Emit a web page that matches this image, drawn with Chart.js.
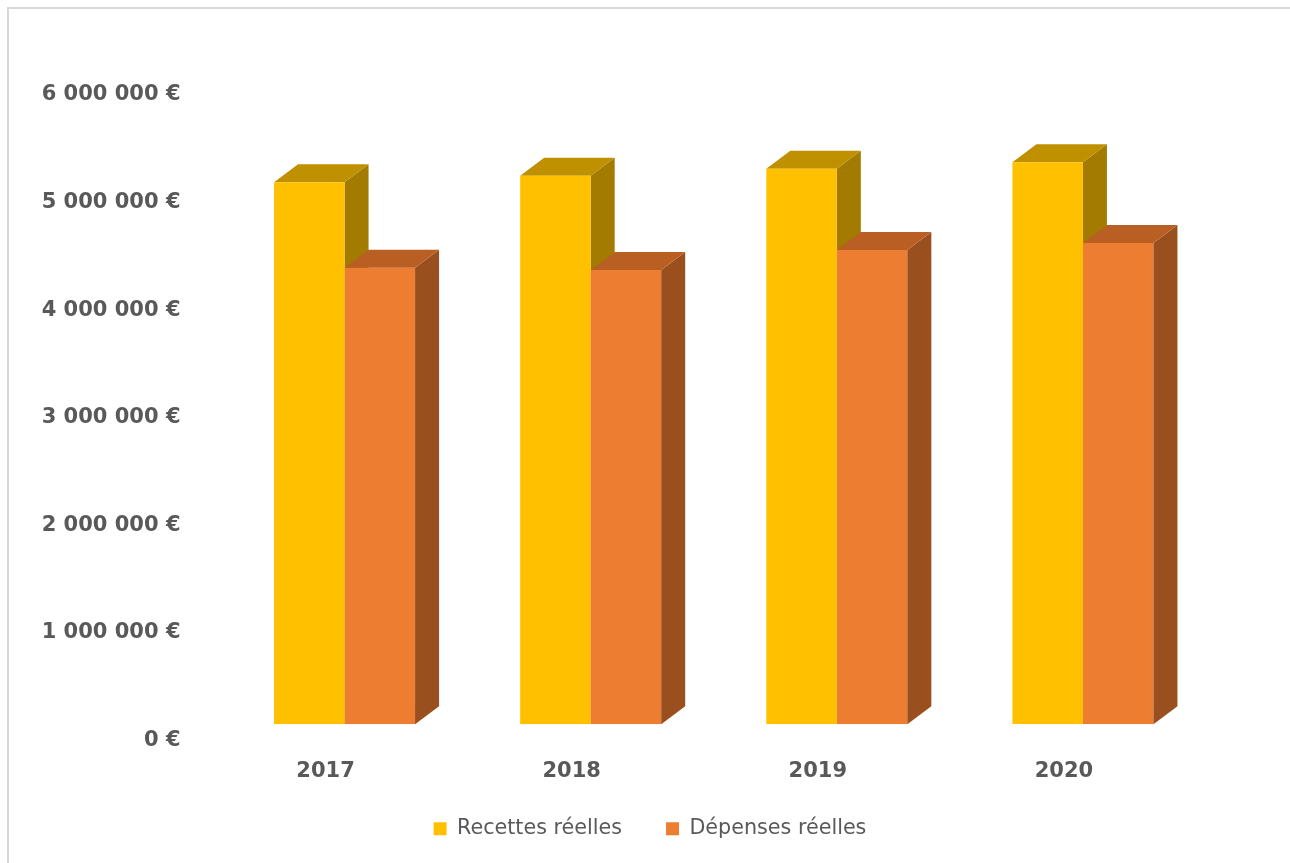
<!DOCTYPE html>
<html>
<head>
<meta charset="utf-8">
<script src="https://cdn.jsdelivr.net/npm/chart.js@4.4.1/dist/chart.umd.min.js"></script>
<style>
  html, body { margin: 0; padding: 0; background: #fff; overflow: hidden; }
  #frame {
    position: absolute; left: 7px; top: 7px; width: 1400px; height: 1000px;
    border-top: 2px solid #d9d9d9; border-left: 2px solid #d9d9d9;
  }
  #graphCanvas { position: absolute; left: 0; top: 0; }
</style>
</head>
<body>
<div id="frame"></div>
<canvas id="graphCanvas" width="1290" height="863"></canvas>
<script>
const years = ["2017", "2018", "2019", "2020"];
const recettes = [5040000, 5100000, 5165000, 5225000];
const depenses = [4245000, 4225000, 4410000, 4475000];

const Y_MAX = 6000000;
const Y_STEP = 1000000;

// colours: front / top / side
const yellow = { front: "#FFC000", top: "#BF9000", side: "#A37B00" };
const orange = { front: "#ED7D31", top: "#B95F24", side: "#9A4F1E" };

const DX = 24;  // depth offset
const DY = -18;

function fmtEuro(v) {
  return String(v).replace(/\B(?=(\d{3})+(?!\d))/g, " ") + " €";
}

function drawFaces(ctx, bar, c) {
  const left = bar.x - bar.width / 2;
  const right = bar.x + bar.width / 2;
  const top = bar.y;
  const base = bar.base;

  // side face
  ctx.fillStyle = c.side;
  ctx.beginPath();
  ctx.moveTo(right, top);
  ctx.lineTo(right + DX, top + DY);
  ctx.lineTo(right + DX, base + DY);
  ctx.lineTo(right, base);
  ctx.closePath();
  ctx.fill();

  // top face
  ctx.fillStyle = c.top;
  ctx.beginPath();
  ctx.moveTo(left, top);
  ctx.lineTo(left + DX, top + DY);
  ctx.lineTo(right + DX, top + DY);
  ctx.lineTo(right, top);
  ctx.closePath();
  ctx.fill();
}

// recettes faces go behind the depenses front, depenses faces on top
const bars3d = {
  id: "bars3d",
  beforeDatasetsDraw(chart) {
    const ctx = chart.ctx;
    ctx.save();
    chart.getDatasetMeta(0).data.forEach(bar => drawFaces(ctx, bar, yellow));
    ctx.restore();
  },
  afterDatasetsDraw(chart) {
    const ctx = chart.ctx;
    ctx.save();
    chart.getDatasetMeta(1).data.forEach(bar => drawFaces(ctx, bar, orange));
    ctx.restore();
  }
};

// legend is centred on the whole frame, not on the padded area
const legendShift = {
  id: "legendShift",
  afterLayout(chart) {
    const lg = chart.legend;
    lg.left += 47;
    lg.right += 47;
    lg.top -= 16;
    lg.bottom -= 16;
  }
};

const ctx = document.getElementById("graphCanvas").getContext("2d");

new Chart(ctx, {
  type: "bar",
  data: {
    labels: years,
    datasets: [
      {
        label: "Recettes réelles",
        data: recettes,
        backgroundColor: yellow.front,
        borderWidth: 0
      },
      {
        label: "Dépenses réelles",
        data: depenses,
        backgroundColor: orange.front,
        borderWidth: 0
      }
    ]
  },
  options: {
    responsive: false,
    animation: false,
    devicePixelRatio: 1,
    layout: { padding: { left: 0, right: 84, top: 79, bottom: -2 } },
    datasets: {
      bar: { categoryPercentage: 0.573, barPercentage: 1 }
    },
    scales: {
      x: {
        grid: { display: false },
        border: { display: false },
        ticks: {
          color: "#595959",
          font: { family: "DejaVu Sans", size: 21, weight: "bold" },
          labelOffset: -19,
          padding: 27
        },
        afterFit: s => { s.height = 66; }
      },
      y: {
        min: 0,
        max: Y_MAX,
        grid: { display: false },
        border: { display: false },
        ticks: {
          stepSize: Y_STEP,
          color: "#595959",
          font: { family: "DejaVu Sans", size: 21, weight: "bold" },
          padding: 33,
          labelOffset: 16,
          callback: v => fmtEuro(v)
        },
        afterFit: s => { s.width = 221.5; }
      }
    },
    plugins: {
      legend: {
        position: "bottom",
        labels: {
          boxWidth: 13,
          boxHeight: 13,
          padding: 44,
          color: "#595959",
          font: { family: "DejaVu Sans", size: 20.7 }
        }
      },
      tooltip: { enabled: false }
    }
  },
  plugins: [bars3d, legendShift]
});
</script>
</body>
</html>
